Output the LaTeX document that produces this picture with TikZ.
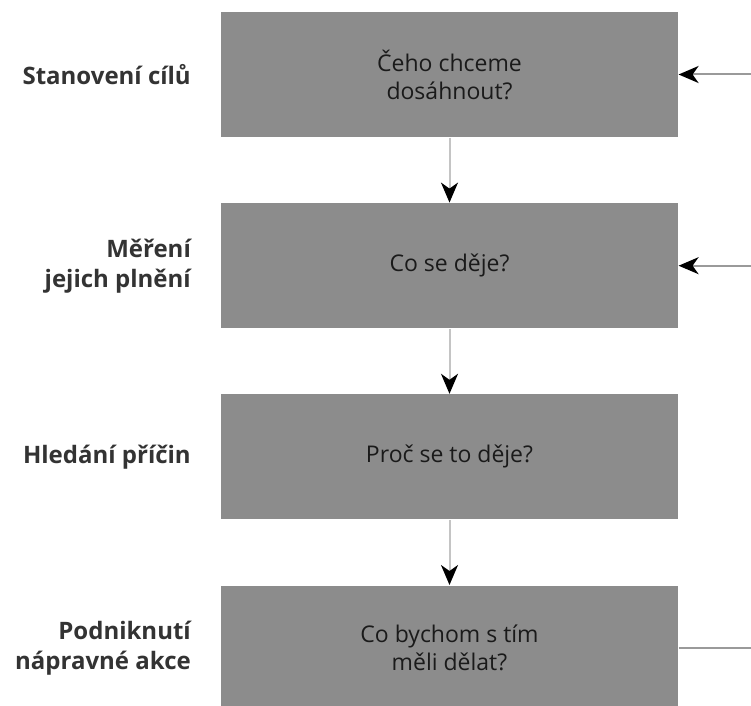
\documentclass[tikz,border=0pt]{standalone}
\usepackage{fontspec}
\setmainfont{Open Sans}
\usetikzlibrary{arrows.meta,positioning}
\definecolor{boxgray}{HTML}{8C8C8C}
\definecolor{textdark}{HTML}{1A1A1A}
\definecolor{labelgray}{HTML}{333333}
\definecolor{flowgray}{HTML}{C4C4C4}
\definecolor{backgray}{HTML}{9A9A9A}

\begin{document}
\begin{tikzpicture}[>={Stealth[length=10pt,width=8.5pt,inset=3pt,color=black]},
                    node distance=95.6pt,semithick]
  \tikzstyle{question}=[rectangle,fill=boxgray,text=textdark,minimum width=228.5pt,
                        minimum height=62.5pt,align=center,
                        font=\fontsize{11.5}{14}\selectfont]
  \tikzstyle{phase}=[inner sep=0pt,align=right,text=labelgray,
                     font=\bfseries\fontsize{12}{15}\selectfont]
  \tikzstyle{flow}=[->,draw=flowgray,line width=1pt]
  \tikzstyle{back}=[draw=backgray,line width=1pt]

  \useasboundingbox (0,0) rectangle (375.5pt,-353pt);
  \coordinate (edge) at (375.5pt,0);

  \node[question] (0) at (224.75pt,-37.25pt) {Čeho chceme\\dosáhnout?};
  \node[question] (1) [below of=0]             {Co se děje?};
  \node[question] (2) [below of=1]             {Proč se to děje?};
  \node[question] (3) [below of=2]             {Co bychom s tím\\měli dělat?};

  \node[phase] (p0) [left=14.5pt of 0] {Stanovení cílů};
  \node[phase] (p1) [left=14.5pt of 1] {Měření\\jejich plnění};
  \node[phase] (p2) [left=14.5pt of 2] {Hledání příčin};
  \node[phase] (p3) [left=14.5pt of 3] {Podniknutí\\nápravné akce};

  \path
(0) edge      [flow]        (1)
(1) edge      [flow]        (2)
(2) edge      [flow]        (3)
(edge |- 0.east) edge [back,->] (0.east)
(edge |- 1.east) edge [back,->] (1.east)
(3.east) edge [back] (edge |- 3.east);
\end{tikzpicture}
\end{document}
